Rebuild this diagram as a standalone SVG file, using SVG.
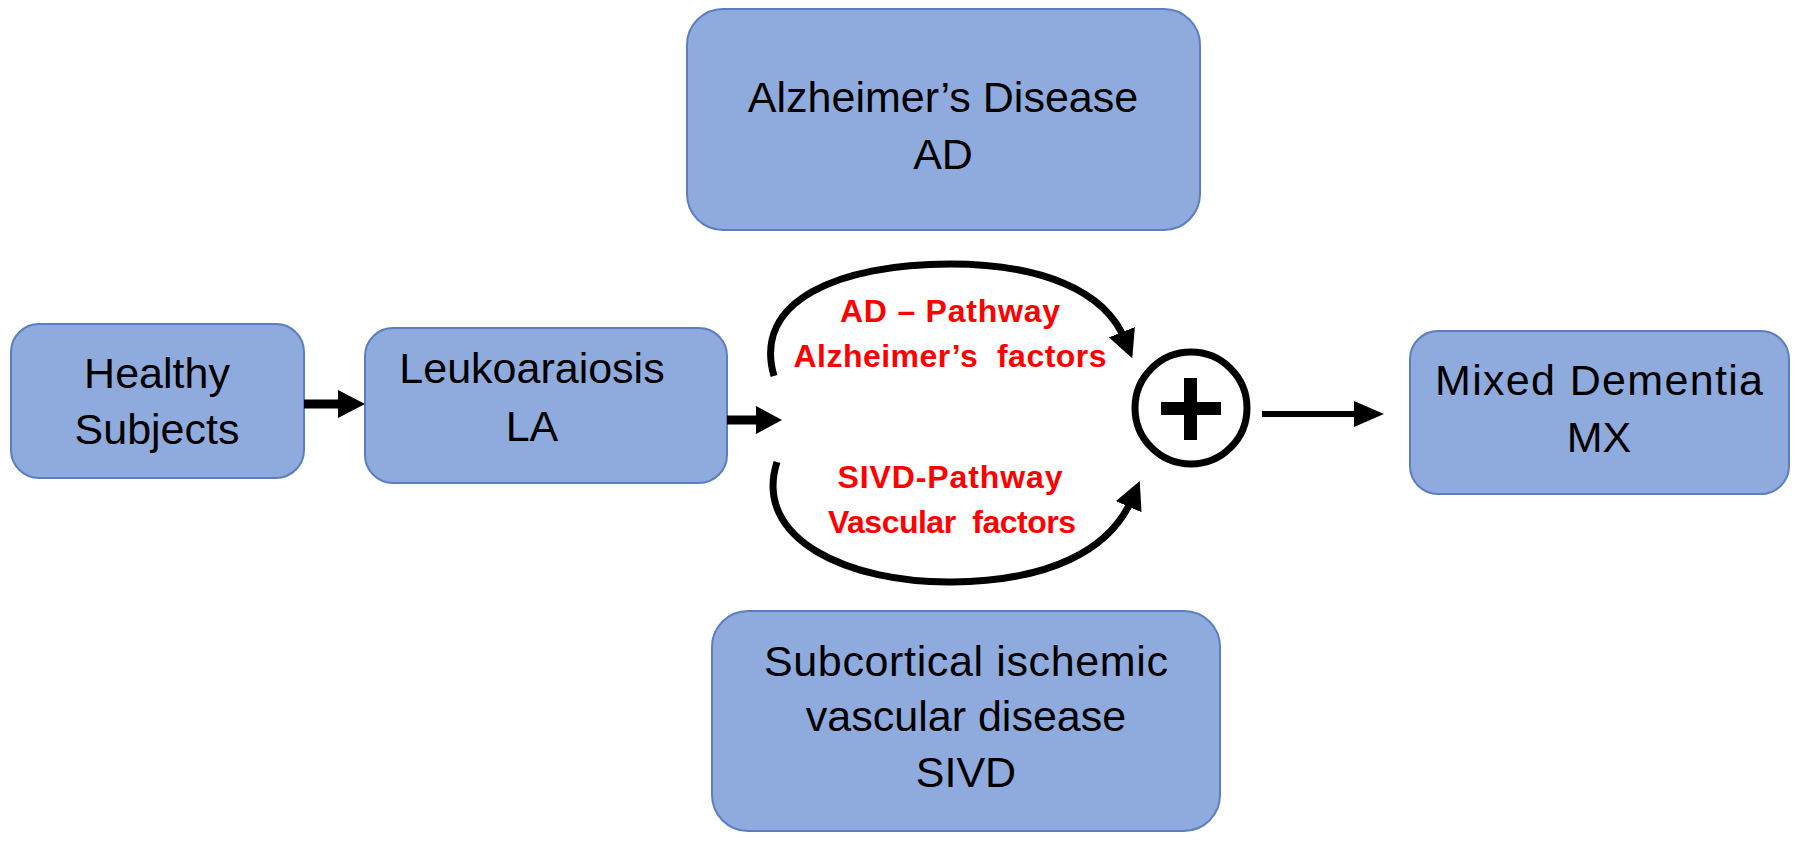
<svg xmlns="http://www.w3.org/2000/svg" width="1800" height="844" viewBox="0 0 1800 844">
<style>
.box{fill:#8FAADC;stroke:#5B7EC2;stroke-width:2}
.t{font-family:"Liberation Sans",Arial,sans-serif;font-size:43px;fill:#000;text-anchor:middle}
.r{font-family:"Liberation Sans",Arial,sans-serif;font-size:32px;font-weight:bold;fill:#FF0000;text-anchor:middle;white-space:pre}
.ln{stroke:#000;fill:none}
</style>
<defs>
<marker id="ah" viewBox="0 0 10 10" refX="3" refY="5" markerWidth="4" markerHeight="4" orient="auto" markerUnits="strokeWidth">
<path d="M0,0 L10,5 L0,10 z" fill="#000"/>
</marker>
</defs>
<rect width="1800" height="844" fill="#fff"/>
<g id="healthy"><rect class="box" x="11" y="324" width="293" height="154" rx="28"/>
<text class="t" x="157" y="388">Healthy</text><text class="t" x="157" y="444">Subjects</text></g>
<g id="la"><rect class="box" x="365" y="328" width="362" height="155" rx="28"/>
<text class="t" x="532" y="383">Leukoaraiosis</text><text class="t" x="532" y="441">LA</text></g>
<g id="ad"><rect class="box" x="687" y="9" width="513" height="221" rx="36"/>
<text class="t" x="943" y="112">Alzheimer’s Disease</text><text class="t" x="943" y="169">AD</text></g>
<g id="sivd"><rect class="box" x="712" y="611" width="508" height="220" rx="36"/>
<text class="t" x="966" y="676" textLength="404">Subcortical ischemic</text><text class="t" x="966" y="731">vascular disease</text><text class="t" x="966" y="787">SIVD</text></g>
<g id="mx"><rect class="box" x="1410" y="331" width="379" height="163" rx="28"/>
<text class="t" x="1599" y="395" textLength="328">Mixed Dementia</text><text class="t" x="1599" y="452">MX</text></g>
<g id="plus"><circle cx="1191" cy="408" r="56" fill="none" stroke="#000" stroke-width="7"/>
<rect x="1161" y="402" width="60" height="13" fill="#000"/><rect x="1184" y="378" width="13" height="62" fill="#000"/></g>
<g id="labels">
<text class="r" x="950" y="322" textLength="220">AD – Pathway</text>
<text class="r" x="950" y="367" textLength="313">Alzheimer’s&#160; factors</text>
<text class="r" x="950" y="488" textLength="225">SIVD-Pathway</text>
<text class="r" x="952" y="533" textLength="248">Vascular&#160; factors</text>
</g>
<g id="connectors">
<line class="ln" x1="304" y1="404" x2="340" y2="404" stroke-width="9"/>
<path d="M338,390 L365,404 L338,418 z"/>
<line class="ln" x1="727" y1="420" x2="760" y2="420" stroke-width="9"/>
<path d="M756,406 L782,420 L756,434 z"/>
<line class="ln" x1="1262" y1="414" x2="1360" y2="414" stroke-width="6"/>
<path d="M1354,401 L1384,414 L1354,427 z"/>
<path class="ln" stroke-width="7" d="M774,376 C752,300 840,264 950,264 C1040,264 1105,290 1125,340" marker-end="url(#ah)"/>
<path class="ln" stroke-width="7" d="M777,462 C752,540 850,583 952,582 C1050,581 1110,550 1132,499" marker-end="url(#ah)"/>
</g>
</svg>
